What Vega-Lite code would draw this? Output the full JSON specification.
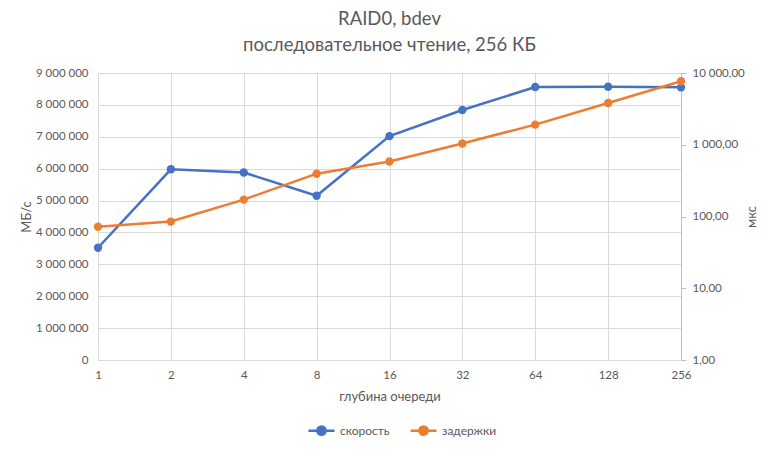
{
  "$schema": "https://vega.github.io/schema/vega-lite/v6.json",
  "width": 583,
  "height": 287,
  "autosize": {"type": "none"},
  "padding": {"left": 98, "top": 73, "right": 99, "bottom": 92},
  "background": "white",
  "config": {
    "font": "Lato",
    "view": {"stroke": null},
    "locale": {"number": {"decimal": ",", "thousands": " ", "grouping": [3], "currency": ["", ""]}},
    "axis": {"labelColor": "#595959", "titleColor": "#595959", "labelFontSize": 11.5, "titleFontSize": 13, "titleFontWeight": "normal", "gridColor": "#D9D9D9", "domainColor": "#BFBFBF", "tickColor": "#BFBFBF", "labelFont": "Lato", "titleFont": "Lato"},
    "legend": {"labelColor": "#595959", "labelFontSize": 12, "labelFont": "Lato"}
  },
  "title": {
    "text": ["RAID0, bdev", "последовательное чтение, 256 КБ"],
    "font": "Lato",
    "fontSize": 18.5,
    "fontWeight": "normal",
    "color": "#595959",
    "lineHeight": 26,
    "offset": 13,
    "anchor": "middle"
  },
  "data": {
    "values": [
      {"qd": 1, "speed": 3520000, "latency": 72},
      {"qd": 2, "speed": 5980000, "latency": 85},
      {"qd": 4, "speed": 5880000, "latency": 172},
      {"qd": 8, "speed": 5150000, "latency": 395},
      {"qd": 16, "speed": 7020000, "latency": 585},
      {"qd": 32, "speed": 7840000, "latency": 1040},
      {"qd": 64, "speed": 8560000, "latency": 1910},
      {"qd": 128, "speed": 8570000, "latency": 3820},
      {"qd": 256, "speed": 8550000, "latency": 7670}
    ]
  },
  "encoding": {
    "x": {
      "field": "qd",
      "type": "ordinal",
      "scale": {"type": "point", "padding": 0},
      "axis": {"title": "глубина очереди", "labelAngle": 0, "grid": true, "ticks": false, "labelPadding": 9, "titlePadding": 10, "domainColor": "#D9D9D9"}
    }
  },
  "layer": [
    {
      "mark": {"type": "line", "strokeWidth": 2.5, "point": {"filled": true, "size": 70}},
      "encoding": {
        "y": {
          "field": "speed",
          "type": "quantitative",
          "scale": {"domain": [0, 9000000]},
          "axis": {"title": "МБ/с", "orient": "left", "values": [0,1000000,2000000,3000000,4000000,5000000,6000000,7000000,8000000,9000000], "format": ",d", "ticks": false, "labelPadding": 10, "titlePadding": 2, "domainColor": "#D9D9D9"}
        },
        "color": {
          "datum": "скорость",
          "scale": {"domain": ["скорость", "задержки"], "range": ["#4472C4", "#ED7D31"]},
          "legend": {
            "title": null,
            "orient": "none",
            "legendX": 209,
            "legendY": 343,
            "direction": "horizontal",
            "columns": 2,
            "symbolType": "M-1,0H1M-0.32,0A0.32,0.32,0,1,1,0.32,0A0.32,0.32,0,1,1,-0.32,0Z",
            "symbolSize": 676,
            "symbolStrokeWidth": 2.5,
            "labelOffset": 4,
            "columnPadding": 15,
            "encode": {"symbols": {"update": {"fill": {"scale": "color", "field": "value"}, "stroke": {"scale": "color", "field": "value"}}}}
          }
        }
      }
    },
    {
      "mark": {"type": "line", "strokeWidth": 2.5, "point": {"filled": true, "size": 70}},
      "encoding": {
        "y": {
          "field": "latency",
          "type": "quantitative",
          "scale": {"type": "log", "domain": [1, 10000]},
          "axis": {"title": "мкс", "orient": "right", "values": [1, 10, 100, 1000, 10000], "format": ",.2f", "grid": false, "ticks": true, "tickSize": 5, "labelPadding": 6, "titlePadding": 14, "titleAngle": -90, "titleBaseline": "bottom"}
        },
        "color": {"datum": "задержки"}
      }
    }
  ],
  "resolve": {"scale": {"y": "independent"}}
}
